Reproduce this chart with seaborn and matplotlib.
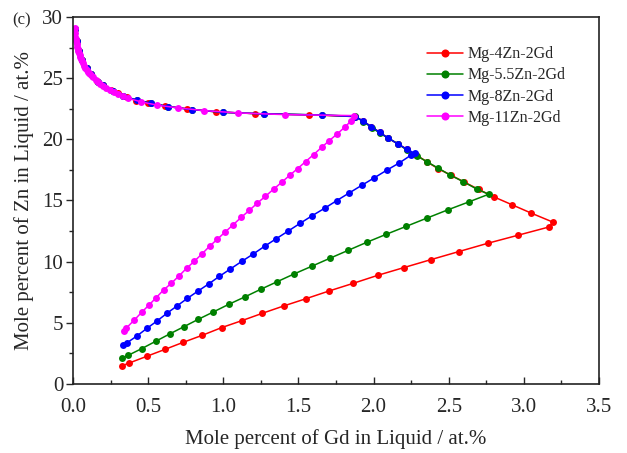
import numpy as np
import pandas as pd
import seaborn as sns
import matplotlib
matplotlib.use("Agg")
import matplotlib.pyplot as plt
from matplotlib.ticker import MultipleLocator

# Liquid composition paths during solidification (at.%)
alloys = ["Mg-4Zn-2Gd", "Mg-5.5Zn-2Gd", "Mg-8Zn-2Gd", "Mg-11Zn-2Gd"]
colors = ["#FF0000", "#008000", "#0000FF", "#FF00FF"]

gd_4zn = [0.328, 0.375, 0.490, 0.612, 0.734, 0.860, 0.989, 1.124, 1.260, 1.402,
          1.552, 1.703, 1.865, 2.027, 2.200, 2.380, 2.566, 2.759, 2.961, 3.169,
          3.196, 3.049, 2.918, 2.800, 2.699, 2.601, 2.517, 2.428, 2.357, 2.284,
          2.222, 2.162, 2.096, 2.040, 1.985, 1.929, 1.878, 1.568, 1.209, 0.954,
          0.760, 0.610, 0.499, 0.421, 0.360, 0.300, 0.250, 0.200, 0.160, 0.120,
          0.090, 0.060, 0.040, 0.025, 0.012]
zn_4zn = [1.50, 1.72, 2.26, 2.83, 3.41, 3.98, 4.61, 5.18, 5.78, 6.38,
          6.98, 7.60, 8.23, 8.88, 9.51, 10.16, 10.82, 11.50, 12.16, 12.84,
          13.22, 13.97, 14.67, 15.30, 15.91, 16.52, 17.06, 17.61, 18.15, 18.72,
          19.19, 19.62, 20.11, 20.58, 21.04, 21.50, 21.86, 22.00, 22.10, 22.24,
          22.49, 22.73, 22.95, 23.17, 23.42, 23.75, 24.05, 24.40, 24.80, 25.30,
          25.80, 26.50, 27.20, 28.00, 29.00]

gd_55zn = [0.328, 0.368, 0.457, 0.550, 0.643, 0.739, 0.834, 0.934, 1.036, 1.142,
           1.249, 1.360, 1.470, 1.588, 1.708, 1.832, 1.956, 2.085, 2.218, 2.353,
           2.493, 2.633, 2.766, 2.686, 2.597, 2.508, 2.431, 2.353, 2.287, 2.220,
           2.165, 2.098, 2.043, 1.987, 1.932, 1.878, 1.657, 1.271, 0.998, 0.792,
           0.632, 0.517, 0.424, 0.335, 0.268, 0.200, 0.168, 0.120, 0.090, 0.060,
           0.040, 0.025, 0.012]
zn_55zn = [2.10, 2.35, 2.89, 3.49, 4.09, 4.69, 5.29, 5.89, 6.51, 7.11,
           7.74, 8.37, 8.99, 9.62, 10.27, 10.93, 11.59, 12.24, 12.89, 13.55,
           14.23, 14.88, 15.51, 15.94, 16.54, 17.09, 17.64, 18.18, 18.67, 19.13,
           19.62, 20.09, 20.50, 20.96, 21.45, 21.88, 21.99, 22.08, 22.21, 22.43,
           22.68, 22.95, 23.20, 23.55, 23.95, 24.40, 24.70, 25.30, 25.80, 26.50,
           27.20, 28.00, 29.00]

gd_8zn = [0.335, 0.361, 0.428, 0.492, 0.559, 0.625, 0.692, 0.761, 0.830, 0.903,
          0.974, 1.047, 1.124, 1.200, 1.275, 1.353, 1.433, 1.512, 1.592, 1.675,
          1.755, 1.837, 1.920, 2.003, 2.087, 2.171, 2.251, 2.275, 2.222, 2.162,
          2.096, 2.040, 1.985, 1.929, 1.878, 1.657, 1.271, 0.998, 0.792, 0.632,
          0.517, 0.424, 0.335, 0.268, 0.200, 0.168, 0.120, 0.090, 0.060, 0.040,
          0.025, 0.012]
zn_8zn = [3.16, 3.38, 3.95, 4.55, 5.15, 5.78, 6.38, 7.00, 7.58, 8.18,
          8.80, 9.40, 10.03, 10.63, 11.26, 11.88, 12.51, 13.14, 13.76, 14.37,
          14.99, 15.61, 16.23, 16.84, 17.47, 18.07, 18.72, 18.85, 19.19, 19.62,
          20.11, 20.58, 21.04, 21.50, 21.86, 21.99, 22.08, 22.21, 22.43, 22.68,
          22.95, 23.20, 23.55, 23.95, 24.40, 24.70, 25.30, 25.80, 26.50, 27.20,
          28.00, 29.00]

gd_11zn = [0.339, 0.353, 0.408, 0.457, 0.506, 0.554, 0.603, 0.654, 0.705, 0.756,
           0.807, 0.858, 0.909, 0.960, 1.013, 1.067, 1.120, 1.173, 1.226, 1.281,
           1.335, 1.390, 1.442, 1.495, 1.548, 1.601, 1.655, 1.705, 1.758, 1.810,
           1.852, 1.867, 1.408, 1.096, 0.872, 0.699, 0.561, 0.455, 0.366, 0.330,
           0.299, 0.270, 0.244, 0.220, 0.200, 0.183, 0.166, 0.150, 0.133, 0.124,
           0.115, 0.107, 0.100, 0.092, 0.083, 0.075, 0.067, 0.061, 0.055, 0.050,
           0.044, 0.040, 0.036, 0.032, 0.029, 0.025, 0.022, 0.018, 0.015, 0.013,
           0.011]
zn_11zn = [4.36, 4.55, 5.23, 5.86, 6.46, 7.06, 7.69, 8.23, 8.83, 9.46,
           10.03, 10.63, 11.26, 11.83, 12.43, 13.03, 13.63, 14.19, 14.78, 15.35,
           15.93, 16.50, 17.06, 17.61, 18.18, 18.75, 19.35, 19.89, 20.44, 21.01,
           21.53, 21.94, 22.02, 22.16, 22.35, 22.57, 22.79, 23.06, 23.36, 23.52,
           23.71, 23.87, 24.04, 24.20, 24.37, 24.52, 24.67, 24.86, 25.08, 25.18,
           25.30, 25.42, 25.54, 25.68, 25.85, 26.03, 26.22, 26.38, 26.55, 26.72,
           26.90, 27.05, 27.20, 27.40, 27.58, 27.80, 28.00, 28.20, 28.40, 28.70,
           29.08]

series = [(gd_4zn, zn_4zn), (gd_55zn, zn_55zn), (gd_8zn, zn_8zn), (gd_11zn, zn_11zn)]
frames = []
for name, (gd, zn) in zip(alloys, series):
    frames.append(pd.DataFrame({"Gd": gd, "Zn": zn, "alloy": name,
                                "step": np.arange(len(gd))}))
df = pd.concat(frames, ignore_index=True)

sns.set_theme(style="ticks")
plt.rcParams["font.family"] = ["Liberation Serif", "DejaVu Serif"]
plt.rcParams["mathtext.fontset"] = "stix"

fig = plt.figure(figsize=(6.27, 4.53), dpi=100)
ax = fig.add_axes([0.1164, 0.1523, 0.8389, 0.8102])

sns.lineplot(data=df, x="Gd", y="Zn", hue="alloy", hue_order=alloys,
             palette=colors, sort=False, estimator=None, units="alloy",
             marker="o", markersize=5.0, markeredgewidth=0, linewidth=1.1,
             ax=ax)

ax.set_xlim(0, 3.5)
ax.set_ylim(0, 30)
ax.xaxis.set_major_locator(MultipleLocator(0.5))
ax.xaxis.set_minor_locator(MultipleLocator(0.25))
ax.yaxis.set_major_locator(MultipleLocator(5))
ax.yaxis.set_minor_locator(MultipleLocator(2.5))
ax.set_xticks(np.arange(0, 3.51, 0.5))
ax.set_xticklabels([f"{v:.1f}" for v in np.arange(0, 3.51, 0.5)])

ax.tick_params(axis="x", which="major", direction="in", length=5, width=1,
               labelsize=15, pad=10, top=False)
ax.tick_params(axis="x", which="minor", direction="in", length=3, width=1, top=False)
ax.tick_params(axis="y", which="major", direction="out", length=5, width=1,
               labelsize=15, pad=2, right=False)
ax.tick_params(axis="y", which="minor", direction="out", length=3, width=1, right=False)
for sp in ax.spines.values():
    sp.set_visible(True)
    sp.set_linewidth(1.2)
    sp.set_color("#222222")

ax.set_xlabel("Mole percent of Gd in Liquid / at.%", fontsize=15, labelpad=9)
ax.set_ylabel("Mole percent of Zn in Liquid / at.%", fontsize=15, labelpad=6)

leg = ax.legend(loc="upper left", bbox_to_anchor=(0.673, 0.92), frameon=False,
                fontsize=11.5, handlelength=2.25, handletextpad=0.3,
                labelspacing=0.32, borderpad=0, borderaxespad=0)
for h in leg.legend_handles:
    h.set_markersize(5.8)

fig.text(0.035, 0.955, "(c)", fontsize=12, ha="center", va="center")

fig.savefig("out.png", dpi=100)
